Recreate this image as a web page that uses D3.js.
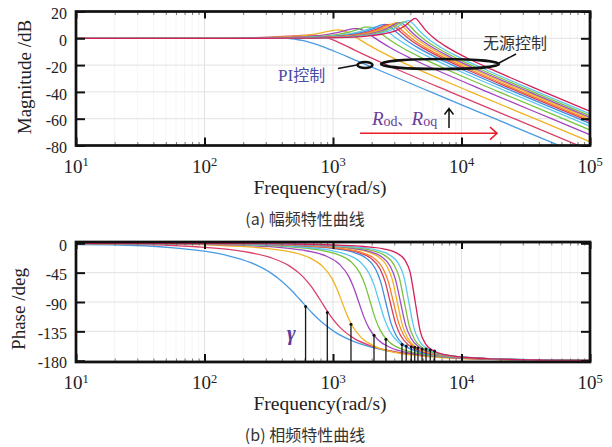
<!DOCTYPE html>
<html>
<head>
<meta charset="utf-8">
<script src="https://cdn.jsdelivr.net/npm/d3@7"></script>
<style>body{margin:0;background:#fff}</style>
</head>
<body>
<svg id="chart" width="612" height="447"></svg>
<script>
// sample positions, in decades relative to each curve's corner frequency
const offsets = [-3, -1.5, -1, -0.6, -0.4, -0.25, -0.15, -0.08, -0.04, 0, 0.04, 0.08, 0.15, 0.25, 0.4, 0.6, 1, 1.5, 2.5];

// corner frequency of each curve (rad/s), read at the -90 deg crossing
const corners = [575, 813, 1175, 1585, 1950, 2290, 2570, 2786, 2951, 3162, 3350, 3589, 3890, 4365];

const colors = ["#4a9be4", "#d9406a", "#f0b323", "#a545c2", "#7cc23e", "#5cc8f0", "#3f8fe0",
                "#d83a5e", "#f5822a", "#f2b323", "#a04cc8", "#80c040", "#5cc8f0", "#d61e5a"];

const magnitudeDb = [
  [0, 0, 0.02, 0.14, 0.29, 0.35, 0.13, -0.38, -0.89, -1.58, -2.49, -3.58, -5.87, -9.65, -15.71, -23.86, -39.98, -60, -100],
  [0, 0, 0.03, 0.35, 0.86, 1.61, 2.2, 2.34, 2.11, 1.51, 0.51, -0.86, -3.8, -8.39, -15.14, -23.65, -39.95, -60, -100],
  [0, 0, 0.08, 0.49, 1.26, 2.62, 4.27, 5.72, 6.27, 6.02, 4.67, 2.52, -1.73, -7.38, -14.74, -23.51, -39.91, -60, -100],
  [0, 0, 0.08, 0.51, 1.31, 2.77, 4.61, 6.4, 7.23, 7.13, 5.63, 3.2, -1.39, -7.23, -14.69, -23.49, -39.91, -60, -100],
  [0, 0, 0.08, 0.52, 1.36, 2.9, 4.93, 7.1, 8.29, 8.4, 6.69, 3.9, -1.07, -7.1, -14.64, -23.48, -39.91, -60, -100],
  [0, 0, 0.08, 0.52, 1.36, 2.9, 4.93, 7.1, 8.29, 8.4, 6.69, 3.9, -1.07, -7.1, -14.64, -23.48, -39.91, -60, -100],
  [0, 0, 0.09, 0.54, 1.41, 3.04, 5.32, 8.03, 9.87, 10.46, 8.27, 4.84, -0.68, -6.96, -14.59, -23.46, -39.91, -60, -100],
  [0, 0, 0.09, 0.54, 1.41, 3.04, 5.32, 8.03, 9.87, 10.46, 8.27, 4.84, -0.68, -6.96, -14.59, -23.46, -39.91, -60, -100],
  [0, 0, 0.09, 0.54, 1.41, 3.04, 5.32, 8.03, 9.87, 10.46, 8.27, 4.84, -0.68, -6.96, -14.59, -23.46, -39.91, -60, -100],
  [0, 0, 0.09, 0.54, 1.43, 3.11, 5.49, 8.48, 10.73, 11.7, 9.13, 5.29, -0.51, -6.89, -14.57, -23.46, -39.91, -60, -100],
  [0, 0, 0.09, 0.54, 1.43, 3.11, 5.49, 8.48, 10.73, 11.7, 9.13, 5.29, -0.51, -6.89, -14.57, -23.46, -39.91, -60, -100],
  [0, 0, 0.09, 0.55, 1.45, 3.15, 5.6, 8.8, 11.2, 12.4, 9.6, 5.5, -0.45, -6.87, -14.56, -23.45, -39.91, -60, -100],
  [0, 0, 0.09, 0.55, 1.46, 3.18, 5.68, 9.0, 11.8, 13.2, 10.2, 5.8, -0.35, -6.84, -14.55, -23.45, -39.91, -60, -100],
  [0, 0, 0.09, 0.56, 1.47, 3.21, 5.77, 9.3, 12.58, 14.89, 10.97, 6.1, -0.23, -6.79, -14.53, -23.44, -39.91, -60, -100]
];

const phaseDeg = [
  [0, -2.2, -6.9, -17.8, -29.6, -44.6, -59.6, -72.8, -81.3, -90, -98.7, -107.2, -120.4, -135.4, -150.4, -162.2, -173.1, -177.8, -180],
  [0, -1.5, -4.9, -12.7, -21.7, -34.6, -50.0, -66.2, -77.6, -90, -102.4, -113.8, -130.0, -145.4, -158.3, -167.3, -175.2, -178.5, -180],
  [0, -0.9, -2.9, -7.6, -13.3, -22.4, -35.4, -53.4, -69.8, -90, -110.3, -126.5, -144.6, -157.6, -166.7, -172.4, -177.1, -179.1, -180],
  [0, -0.8, -2.5, -6.7, -11.8, -19.9, -32.0, -49.9, -67.3, -90, -112.8, -130.1, -148.0, -160.1, -168.2, -173.3, -177.5, -179.2, -180],
  [0, -0.7, -2.2, -5.8, -10.2, -17.4, -28.3, -45.7, -64.1, -90, -115.9, -134.3, -151.7, -162.6, -169.8, -174.2, -177.8, -179.3, -180],
  [0, -0.7, -2.2, -5.8, -10.2, -17.4, -28.3, -45.7, -64.1, -90, -115.9, -134.3, -151.7, -162.6, -169.8, -174.2, -177.8, -179.3, -180],
  [0, -0.5, -1.7, -4.6, -8.1, -13.9, -23.1, -39.0, -58.4, -90, -121.6, -141.0, -156.9, -166.1, -171.9, -175.4, -178.3, -179.5, -180],
  [0, -0.5, -1.7, -4.6, -8.1, -13.9, -23.1, -39.0, -58.4, -90, -121.6, -141.0, -156.9, -166.1, -171.9, -175.4, -178.3, -179.5, -180],
  [0, -0.5, -1.7, -4.6, -8.1, -13.9, -23.1, -39.0, -58.4, -90, -121.6, -141.0, -156.9, -166.1, -171.9, -175.4, -178.3, -179.5, -180],
  [0, -0.5, -1.5, -4.0, -7.0, -12.1, -20.3, -35.1, -54.6, -90, -125.4, -144.9, -159.7, -167.9, -173.0, -176.0, -178.5, -179.5, -180],
  [0, -0.5, -1.5, -4.0, -7.0, -12.1, -20.3, -35.1, -54.6, -90, -125.4, -144.9, -159.7, -167.9, -173.0, -176.0, -178.5, -179.5, -180],
  [0, -0.4, -1.4, -3.7, -6.5, -11.2, -18.9, -33.0, -52.0, -90, -128.0, -147.5, -161.3, -168.8, -173.5, -176.3, -178.6, -179.5, -180],
  [0, -0.4, -1.3, -3.5, -6.1, -10.5, -17.8, -31.2, -50.0, -90, -130.0, -149.2, -162.3, -169.5, -173.9, -176.5, -178.7, -179.6, -180],
  [0, -0.3, -1.0, -2.8, -4.9, -8.4, -14.3, -25.9, -44.3, -90, -135.7, -154.1, -165.7, -171.6, -175.1, -177.2, -179.0, -179.7, -180]
];

// black stems in the phase plot (one per curve)
const stemFreq = [612, 903, 1380, 2085, 2582, 3444, 3715, 4064, 4325, 4581, 4932, 5297, 5715, 6180];
const stemPhase = [-97, -106, -124, -141, -147, -155, -157.5, -158.6, -159.5, -160.6, -162, -162, -163.7, -165];

const decades = [10, 100, 1000, 10000, 100000];
const magTicks = [20, 0, -20, -40, -60, -80];
const phaseTicks = [0, -45, -90, -135, -180];

const serif = "'Liberation Serif', 'DejaVu Serif', serif";
const cjk = "'Noto Sans CJK SC', 'Noto Sans', sans-serif";

const svg = d3.select("#chart");
const x = d3.scaleLog().domain([10, 1e5]).range([76, 590]);

const minorTicks = [];
for (let e = 1; e < 5; e++) for (let k = 2; k < 10; k++) minorTicks.push(k * Math.pow(10, e));

const line = d3.line().curve(d3.curveMonotoneX);

function drawPanel(p) {
  const y = d3.scaleLinear().domain(p.yDomain).range([p.bottom, p.top]);
  const g = svg.append("g");

  svg.append("defs").append("clipPath").attr("id", "clip-" + p.id)
    .append("rect").attr("x", x.range()[0]).attr("y", p.top)
    .attr("width", x.range()[1] - x.range()[0]).attr("height", p.bottom - p.top);

  // grid
  g.append("g").selectAll("line").data(minorTicks).join("line")
    .attr("x1", d => x(d)).attr("x2", d => x(d)).attr("y1", p.top).attr("y2", p.bottom)
    .attr("stroke", "#f3f3f3").attr("stroke-width", 0.8);
  g.append("g").selectAll("line").data(decades).join("line")
    .attr("x1", d => x(d)).attr("x2", d => x(d)).attr("y1", p.top).attr("y2", p.bottom)
    .attr("stroke", "#e2e2e2").attr("stroke-width", 1);
  g.append("g").selectAll("line").data(p.ticks).join("line")
    .attr("x1", x.range()[0]).attr("x2", x.range()[1]).attr("y1", d => y(d)).attr("y2", d => y(d))
    .attr("stroke", "#e2e2e2").attr("stroke-width", 1);

  // curves
  const cg = g.append("g").attr("clip-path", "url(#clip-" + p.id + ")");
  p.values.forEach((vals, i) => {
    const pts = offsets.map((o, j) => [x(corners[i] * Math.pow(10, o)), y(vals[j])]);
    cg.append("path").attr("d", line(pts))
      .attr("fill", "none").attr("stroke", colors[i]).attr("stroke-width", 1.3);
  });

  // axes (inward ticks)
  const axes = g.append("g");
  const major = (a) => a.tickValues(decades).tickFormat("");
  const minor = (a) => a.tickValues(minorTicks).tickFormat("");
  axes.append("g").attr("transform", `translate(0,${p.bottom})`).call(minor(d3.axisBottom(x)).tickSize(-3.5)).attr("class", "mn");
  axes.append("g").attr("transform", `translate(0,${p.top})`).call(minor(d3.axisTop(x)).tickSize(-3.5)).attr("class", "mn");
  axes.append("g").attr("transform", `translate(0,${p.bottom})`).call(major(d3.axisBottom(x)).tickSize(-8)).attr("class", "mj");
  axes.append("g").attr("transform", `translate(0,${p.top})`).call(major(d3.axisTop(x)).tickSize(-7)).attr("class", "mj");
  axes.append("g").attr("transform", `translate(${x.range()[0]},0)`)
    .call(d3.axisLeft(y).tickValues(p.ticks).tickSize(-9).tickPadding(9).tickFormat(d => String(d)))
    .attr("class", "mj yl");
  axes.append("g").attr("transform", `translate(${x.range()[1]},0)`)
    .call(d3.axisRight(y).tickValues(p.ticks).tickSize(-9).tickFormat("")).attr("class", "mj");
  axes.selectAll(".domain").remove();
  axes.selectAll(".mn .tick line").attr("stroke", "#555").attr("stroke-width", 0.8);
  axes.selectAll(".mj .tick line").attr("stroke", "#111").attr("stroke-width", 2);
  axes.selectAll(".yl text").attr("font-family", serif).attr("font-size", 16).attr("fill", "#222")
    .attr("dy", "0.45em");

  // x tick labels 10^n
  const xl = g.append("g").selectAll("text").data(decades).join("text")
    .attr("x", d => x(d)).attr("y", p.bottom + 27).attr("text-anchor", "middle")
    .attr("font-family", serif).attr("font-size", 19).attr("fill", "#222");
  xl.append("tspan").text("10");
  xl.append("tspan").attr("font-size", 12.5).attr("dy", -6.5).text(d => Math.round(Math.log10(d)));

  // axis titles
  g.append("text").attr("transform", `translate(${p.labelX},${p.labelY}) rotate(-90)`)
    .attr("text-anchor", "middle").attr("font-family", serif).attr("font-size", 19)
    .attr("fill", "#222").text(p.ylabel);
  g.append("text").attr("x", 320).attr("y", p.bottom + 48)
    .attr("text-anchor", "middle").attr("font-family", serif).attr("font-size", 19.5)
    .attr("fill", "#222").text("Frequency(rad/s)");
  g.append("text").attr("x", 305).attr("y", p.bottom + 79)
    .attr("text-anchor", "middle").attr("font-family", cjk).attr("font-size", 16)
    .attr("fill", "#333").text(p.caption);

  return { g, y };
}

const magPanel = drawPanel({
  id: "mag", top: 11.5, bottom: 145.5, yDomain: [-80, 20], ticks: magTicks,
  values: magnitudeDb, ylabel: "Magnitude /dB", labelX: 31, labelY: 77,
  caption: "(a) 幅频特性曲线"
});

const phasePanel = drawPanel({
  id: "phase", top: 242, bottom: 362, yDomain: [-182, 2], ticks: phaseTicks,
  values: phaseDeg, ylabel: "Phase /deg", labelX: 25, labelY: 309,
  caption: "(b) 相频特性曲线"
});

// stems
const stems = phasePanel.g.append("g");
stems.selectAll("line").data(stemFreq).join("line")
  .attr("x1", d => x(d)).attr("x2", d => x(d))
  .attr("y1", 362).attr("y2", (d, i) => phasePanel.y(stemPhase[i]))
  .attr("stroke", "#1a1a1a").attr("stroke-width", 1.3);
stems.selectAll("circle").data(stemFreq).join("circle")
  .attr("cx", d => x(d)).attr("cy", (d, i) => phasePanel.y(stemPhase[i])).attr("r", 1.5)
  .attr("fill", "#111");
phasePanel.g.append("text").attr("x", 287).attr("y", 340)
  .attr("font-family", serif).attr("font-style", "italic").attr("font-weight", "bold").attr("font-size", 21)
  .attr("fill", "#5b3d9e").text("γ");

// borders
[[11.5, 145.5], [242, 362]].forEach(([t, b]) => {
  svg.append("rect").attr("x", 76).attr("y", t).attr("width", 514).attr("height", b - t)
    .attr("fill", "none").attr("stroke", "#111").attr("stroke-width", 2.7);
});

// annotations in the magnitude plot
const ann = magPanel.g.append("g");
const pi = ann.append("text").attr("x", 278).attr("y", 81).attr("fill", "#4a4aa6").attr("font-size", 16);
pi.append("tspan").attr("font-family", serif).attr("font-size", 17).text("PI");
pi.append("tspan").attr("font-family", cjk).text("控制");
ann.append("line").attr("x1", 338).attr("y1", 68.5).attr("x2", 357).attr("y2", 65)
  .attr("stroke", "#111").attr("stroke-width", 1.5);
ann.append("ellipse").attr("cx", 365).attr("cy", 65).attr("rx", 7.5).attr("ry", 3)
  .attr("fill", "none").attr("stroke", "#111").attr("stroke-width", 2.5);

ann.append("ellipse").attr("cx", 440).attr("cy", 64).attr("rx", 59).attr("ry", 5)
  .attr("fill", "none").attr("stroke", "#111").attr("stroke-width", 2.6);
ann.append("line").attr("x1", 499).attr("y1", 63).attr("x2", 516).attr("y2", 54)
  .attr("stroke", "#111").attr("stroke-width", 1.5);
ann.append("text").attr("x", 483).attr("y", 49).attr("fill", "#333")
  .attr("font-family", cjk).attr("font-size", 16).text("无源控制");

const rt = ann.append("text").attr("x", 372).attr("y", 125).attr("fill", "#6a3d9a");
rt.append("tspan").attr("font-family", serif).attr("font-style", "italic").attr("font-size", 19).text("R");
rt.append("tspan").attr("font-family", serif).attr("font-size", 14).attr("dy", 1).text("od");
rt.append("tspan").attr("font-family", cjk).attr("font-size", 14).attr("dy", -1).text("、");
rt.append("tspan").attr("font-family", serif).attr("font-style", "italic").attr("font-size", 19).text("R");
rt.append("tspan").attr("font-family", serif).attr("font-size", 14).attr("dy", 1).text("oq");
ann.append("path").attr("d", "M449,128 L449,109 M444.5,114.5 L449,108.5 L453.5,114.5")
  .attr("fill", "none").attr("stroke", "#111").attr("stroke-width", 1.5);

ann.append("path").attr("d", "M360,133.3 L497,133.3 M490,127 L497,133.3 L490,139.6")
  .attr("fill", "none").attr("stroke", "#e8202a").attr("stroke-width", 1.6);
</script>
</body>
</html>
